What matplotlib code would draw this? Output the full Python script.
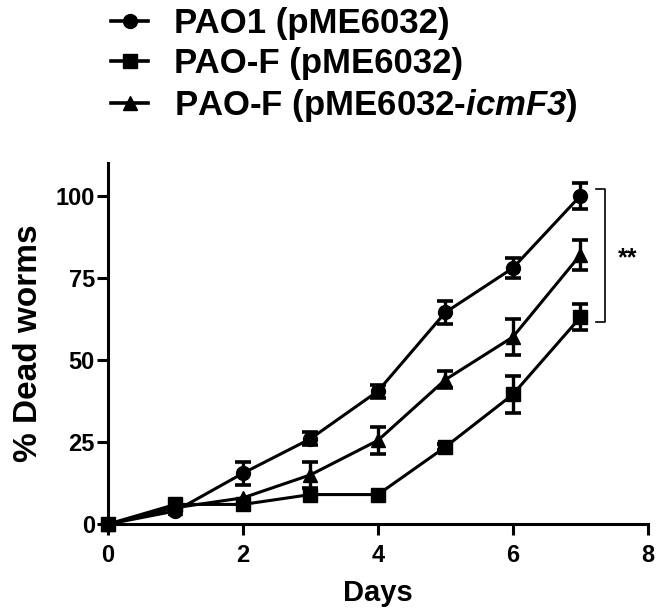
import numpy as np
import matplotlib
matplotlib.use("Agg")
import matplotlib.pyplot as plt
from matplotlib.lines import Line2D

FONTE = "Liberation Sans"
plt.rcParams["font.family"] = [FONTE, "DejaVu Sans"]
plt.rcParams["font.weight"] = "bold"
# parte em italico da legenda (icmF3) via mathtext
plt.rcParams["mathtext.fontset"] = "custom"
plt.rcParams["mathtext.it"] = FONTE + ":italic:bold"
plt.rcParams["mathtext.rm"] = FONTE + ":italic:bold"

dias = [0, 1, 2, 3, 4, 5, 6, 7]

pao1 = [0, 4, 15.5, 26, 40.5, 64.5, 78, 100]
pao1_err = [0, 0, 3.5, 2, 2, 3.5, 3, 4]

paof = [0, 6, 6, 9, 9, 23.5, 39.5, 63]
paof_err = [0, 0, 0, 0, 0, 1, 5.5, 4]

paof_icm = [0, 5, 8, 15, 25.5, 44, 57, 82]
paof_icm_err = [0, 0, 0, 4, 4, 2.5, 5.5, 4.5]

series = [
    ("PAO1 (pME6032)", pao1, pao1_err, "o"),
    ("PAO-F (pME6032)", paof, paof_err, "s"),
    (r"PAO-F (pME6032-$\mathrm{icmF3}$)", paof_icm, paof_icm_err, "^"),
]

fig = plt.figure(figsize=(6.61, 6.13), dpi=100)
ax = fig.add_axes([0.1634, 0.145, 0.8166, 0.589])

handles = []
for rotulo, y, e, m in series:
    e = np.array(e, dtype=float)
    e[e == 0] = np.nan
    ax.errorbar(dias, y, yerr=e, color="black", marker=m, ms=10,
                lw=2.2, elinewidth=2.4, capsize=6, capthick=2.6,
                clip_on=False, zorder=3)
    handles.append(Line2D([], [], color="black", marker=m, ms=10, lw=2.6))

# colchete de significancia
ax.plot([7.23, 7.36, 7.36, 7.23], [102, 102, 61.6, 61.6], color="black",
        lw=1.2, clip_on=False)
ax.text(7.7, 81, "**", ha="center", va="center", fontsize=18,
        fontweight="bold")

ax.set_xlim(0, 8)
ax.set_ylim(0, 110)
ax.set_xticks([0, 2, 4, 6, 8])
ax.set_yticks([0, 25, 50, 75, 100])
for lado in ["top", "right"]:
    ax.spines[lado].set_visible(False)
for lado in ["left", "bottom"]:
    ax.spines[lado].set_linewidth(2.2)
ax.tick_params(width=2.2, length=8, labelsize=17, direction="out")
ax.tick_params(axis="x", pad=6)
ax.tick_params(axis="y", pad=1.5)
for t in ax.get_xticklabels() + ax.get_yticklabels():
    t.set_fontweight("bold")

ax.set_xlabel("Days", fontsize=21, fontweight="bold", labelpad=9)
ax.set_ylabel("% Dead worms", fontsize=24, fontweight="bold", labelpad=8)

fig.legend(handles, [s[0] for s in series], loc="upper left",
           bbox_to_anchor=(0.168, 0.988), frameon=False,
           handlelength=1.07, handletextpad=0.75, labelspacing=0.2,
           borderpad=0, borderaxespad=0,
           prop={"weight": "bold", "size": 25})

fig.savefig("out.png", dpi=100)
